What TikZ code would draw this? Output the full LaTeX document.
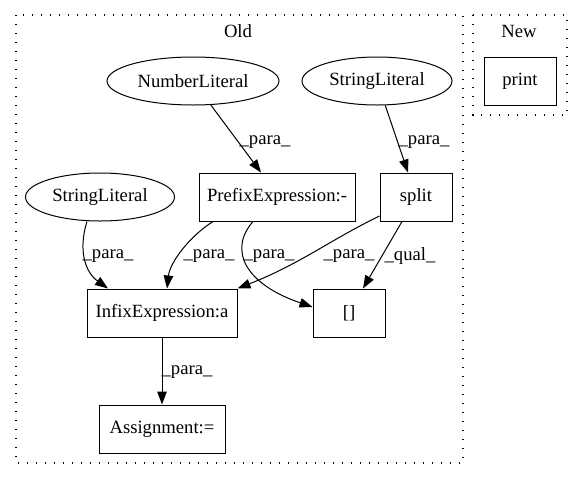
\documentclass[tikz,border=0pt]{standalone}
\usepackage{fontspec}
\setmainfont{Liberation Serif}
\usetikzlibrary{arrows.meta,shapes.geometric,calc}
\begin{document}
\begin{tikzpicture}[x=1pt,y=-1pt,
  every node/.style={font=\fontsize{18.67}{22}\selectfont, inner sep=0pt},
  ell/.style={draw, ellipse, line width=1pt, minimum height=48pt},
  box/.style={draw, rectangle, line width=1pt, minimum height=48pt},
  edge/.style={draw, line width=1pt, -{Triangle[length=13pt,width=9.5pt]}},
  lbl/.style={},
  cluster/.style={draw, line width=1.4pt, dash pattern=on 1.4pt off 7.6pt}]
\useasboundingbox (0,0) rectangle (583,480);
% clusters
\draw[cluster] (16,15) rectangle (463,463);
\draw[cluster] (473,15) rectangle (567,115);
\node (old) at (238,31) {Old};
\node (new) at (519,31) {New};
% nodes
\node[box, minimum width=72pt] (print) at (520,81) {print};
\node[ell, minimum width=172pt] (nl) at (193,81) {NumberLiteral};
\node[ell, minimum width=150pt] (slr) at (377,81) {StringLiteral};
\node[ell, minimum width=149pt] (sll) at (100,197) {StringLiteral};
\node[box, minimum width=156pt] (pre) at (277,197) {PrefixExpression:-};
\node[box, minimum width=72pt] (split) at (416,197) {split};
\node[box, minimum width=150pt] (infix) at (162,313) {InfixExpression:a};
\node[box, minimum width=72pt] (br) at (349,313) {[]};
\node[box, minimum width=126pt] (asg) at (162,429) {Assignment:=};
% edges
\draw[edge] (nl) -- ($(pre.north)+(-16,0)$);
\draw[edge] (slr) -- ($(split.north)+(-8,0)$);
\draw[edge] ($(sll.south)+(-13,0)$) .. controls (78,250) and (85,272) .. ($(infix.north)+(-54,0)$);
\draw[edge] ($(pre.south)+(-64,0)$) .. controls (190,236) and (170,262) .. ($(infix.north)+(5,0)$);
\draw[edge] ($(pre.south)+(-24,0)$) .. controls (228,250) and (245,284) .. ($(br.west)+(0,-6)$);
\draw[edge] ($(split.west)+(0,19)$) .. controls (330,240) and (300,264) .. (infix.north east);
\draw[edge] ($(split.south)+(-14,0)$) -- ($(br.north)+(14,0)$);
\draw[edge] (infix) -- (asg);
% labels
\node[lbl] (l1) at (265,142) {\_para\_};
\node[lbl] (l2) at (424,142) {\_para\_};
\node[lbl] (l3) at (108,256) {\_para\_};
\node[lbl] (l4) at (209,256) {\_para\_};
\node[lbl] (l5) at (269,256) {\_para\_};
\node[lbl] (l6) at (349,256) {\_para\_};
\node[lbl] (l7) at (410,256) {\_qual\_};
\node[lbl] (l8) at (187,372) {\_para\_};
\end{tikzpicture}
\end{document}
